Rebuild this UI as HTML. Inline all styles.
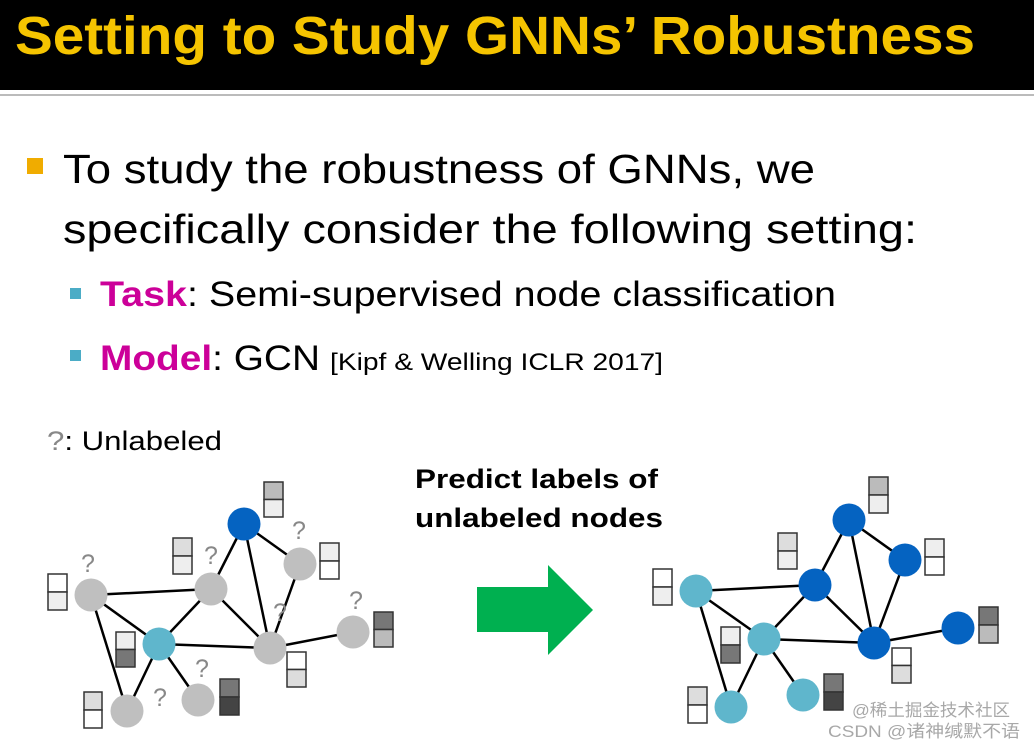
<!DOCTYPE html>
<html><head><meta charset="utf-8"><style>html,body{margin:0;padding:0;background:#fff}svg{display:block}</style></head><body>
<svg width="1034" height="742" viewBox="0 0 1034 742" xmlns="http://www.w3.org/2000/svg">
<rect x="0" y="0" width="1034" height="90" fill="#000"/>
<rect x="0" y="94" width="1034" height="2" fill="#bbb"/>
<text x="15" y="54" font-family="Liberation Sans, sans-serif" font-size="54" font-weight="bold" fill="#f5c400" textLength="960" lengthAdjust="spacingAndGlyphs">Setting to Study GNNs’ Robustness</text>
<rect x="27" y="158" width="16" height="16" fill="#f0ac00"/>
<g font-family="Liberation Sans, sans-serif" fill="#000">
<text x="63" y="183" font-size="41" textLength="752" lengthAdjust="spacingAndGlyphs">To study the robustness of GNNs, we</text>
<text x="63" y="243" font-size="41" textLength="854" lengthAdjust="spacingAndGlyphs">specifically consider the following setting:</text>
<rect x="70" y="288" width="11" height="11" fill="#4bacc6"/>
<rect x="70" y="350" width="11" height="11" fill="#4bacc6"/>
<text x="100" y="306" font-size="35" textLength="736" lengthAdjust="spacingAndGlyphs"><tspan fill="#cc0099" font-weight="bold">Task</tspan>: Semi-supervised node classification</text>
<text x="100" y="370" font-size="35" textLength="220" lengthAdjust="spacingAndGlyphs"><tspan fill="#cc0099" font-weight="bold">Model</tspan>: GCN</text>
<text x="330" y="370" font-size="24" textLength="333" lengthAdjust="spacingAndGlyphs">[Kipf &amp; Welling ICLR 2017]</text>
<text x="47" y="450" font-size="27" textLength="175" lengthAdjust="spacingAndGlyphs"><tspan fill="#888">?</tspan>: Unlabeled</text>
<text x="415" y="488" font-size="27" font-weight="bold" textLength="243" lengthAdjust="spacingAndGlyphs">Predict labels of</text>
<text x="415" y="527" font-size="27" font-weight="bold" textLength="248" lengthAdjust="spacingAndGlyphs">unlabeled nodes</text>
</g>
<polygon points="477,587 548,587 548,565 593,610 548,655 548,632 477,632" fill="#00b050"/>
<g stroke="#000" stroke-width="2.5">
<line x1="91" y1="595" x2="211" y2="589"/><line x1="91" y1="595" x2="159" y2="644"/><line x1="91" y1="595" x2="127" y2="711"/>
<line x1="211" y1="589" x2="159" y2="644"/><line x1="211" y1="589" x2="244" y2="524"/><line x1="211" y1="589" x2="270" y2="648"/>
<line x1="244" y1="524" x2="300" y2="564"/><line x1="244" y1="524" x2="270" y2="648"/><line x1="300" y1="564" x2="270" y2="648"/>
<line x1="270" y1="648" x2="353" y2="632"/><line x1="159" y1="644" x2="270" y2="648"/><line x1="159" y1="644" x2="127" y2="711"/><line x1="159" y1="644" x2="198" y2="700"/>
</g>
<g>
<circle cx="91" cy="595" r="16.5" fill="#bfbfbf"/><circle cx="211" cy="589" r="16.5" fill="#bfbfbf"/>
<circle cx="244" cy="524" r="16.5" fill="#0563c1"/><circle cx="300" cy="564" r="16.5" fill="#bfbfbf"/>
<circle cx="159" cy="644" r="16.5" fill="#5fb6cc"/><circle cx="270" cy="648" r="16.5" fill="#bfbfbf"/>
<circle cx="353" cy="632" r="16.5" fill="#bfbfbf"/><circle cx="127" cy="711" r="16.5" fill="#bfbfbf"/>
<circle cx="198" cy="700" r="16.5" fill="#bfbfbf"/>
</g>
<g font-family="Liberation Sans, sans-serif" font-size="25" fill="#888" text-anchor="middle">
<text x="88" y="572">?</text><text x="211" y="564">?</text><text x="299" y="539">?</text><text x="280" y="621">?</text>
<text x="356" y="609">?</text><text x="202" y="677">?</text><text x="160" y="706">?</text>
</g>
<g stroke="#333" stroke-width="1.5">
<rect x="264" y="482" width="19" height="17.5" fill="#bbb"/><rect x="264" y="499.5" width="19" height="17.5" fill="#eee"/>
<rect x="173" y="538" width="19" height="18" fill="#ddd"/><rect x="173" y="556" width="19" height="18" fill="#eee"/>
<rect x="48" y="574" width="19" height="18" fill="#fff"/><rect x="48" y="592" width="19" height="18" fill="#eee"/>
<rect x="320" y="543" width="19" height="18" fill="#eee"/><rect x="320" y="561" width="19" height="18" fill="#fff"/>
<rect x="116" y="632" width="19" height="17.5" fill="#eee"/><rect x="116" y="649.5" width="19" height="17.5" fill="#777"/>
<rect x="287" y="652" width="19" height="17.5" fill="#fff"/><rect x="287" y="669.5" width="19" height="17.5" fill="#ddd"/>
<rect x="374" y="612" width="19" height="17.5" fill="#777"/><rect x="374" y="629.5" width="19" height="17.5" fill="#bbb"/>
<rect x="220" y="679" width="19" height="18" fill="#777"/><rect x="220" y="697" width="19" height="18" fill="#444"/>
<rect x="84" y="692" width="18" height="18" fill="#ddd"/><rect x="84" y="710" width="18" height="18" fill="#fff"/>
</g>
<g stroke="#000" stroke-width="2.5">
<line x1="696" y1="591" x2="815" y2="585"/><line x1="696" y1="591" x2="764" y2="639"/><line x1="696" y1="591" x2="731" y2="707"/>
<line x1="815" y1="585" x2="764" y2="639"/><line x1="815" y1="585" x2="849" y2="520"/><line x1="815" y1="585" x2="874" y2="643"/>
<line x1="849" y1="520" x2="905" y2="560"/><line x1="849" y1="520" x2="874" y2="643"/><line x1="905" y1="560" x2="874" y2="643"/>
<line x1="874" y1="643" x2="958" y2="628"/><line x1="764" y1="639" x2="874" y2="643"/><line x1="764" y1="639" x2="731" y2="707"/><line x1="764" y1="639" x2="803" y2="695"/>
</g>
<g>
<circle cx="696" cy="591" r="16.5" fill="#5fb6cc"/><circle cx="815" cy="585" r="16.5" fill="#0563c1"/>
<circle cx="849" cy="520" r="16.5" fill="#0563c1"/><circle cx="905" cy="560" r="16.5" fill="#0563c1"/>
<circle cx="764" cy="639" r="16.5" fill="#5fb6cc"/><circle cx="874" cy="643" r="16.5" fill="#0563c1"/>
<circle cx="958" cy="628" r="16.5" fill="#0563c1"/><circle cx="731" cy="707" r="16.5" fill="#5fb6cc"/>
<circle cx="803" cy="695" r="16.5" fill="#5fb6cc"/>
</g>
<g stroke="#333" stroke-width="1.5">
<rect x="869" y="477" width="19" height="18" fill="#bbb"/><rect x="869" y="495" width="19" height="18" fill="#eee"/>
<rect x="778" y="533" width="19" height="18" fill="#ddd"/><rect x="778" y="551" width="19" height="18" fill="#eee"/>
<rect x="653" y="569" width="19" height="18" fill="#fff"/><rect x="653" y="587" width="19" height="18" fill="#eee"/>
<rect x="925" y="539" width="19" height="18" fill="#eee"/><rect x="925" y="557" width="19" height="18" fill="#fff"/>
<rect x="721" y="627" width="19" height="18" fill="#eee"/><rect x="721" y="645" width="19" height="18" fill="#777"/>
<rect x="892" y="648" width="19" height="17.5" fill="#fff"/><rect x="892" y="665.5" width="19" height="17.5" fill="#ddd"/>
<rect x="979" y="607" width="19" height="18" fill="#777"/><rect x="979" y="625" width="19" height="18" fill="#bbb"/>
<rect x="824" y="674" width="19" height="18" fill="#777"/><rect x="824" y="692" width="19" height="18" fill="#444"/>
<rect x="688" y="687" width="19" height="18" fill="#ddd"/><rect x="688" y="705" width="19" height="18" fill="#fff"/>
</g>
<g font-family="Liberation Sans, 'Noto Sans CJK SC', sans-serif" font-size="17" fill="#999" fill-opacity="0.85">
<text x="852" y="716" textLength="158" lengthAdjust="spacingAndGlyphs">@稀土掘金技术社区</text>
<text x="828" y="737" textLength="192" lengthAdjust="spacingAndGlyphs">CSDN @诸神缄默不语</text>
</g>
</svg>
</body></html>
